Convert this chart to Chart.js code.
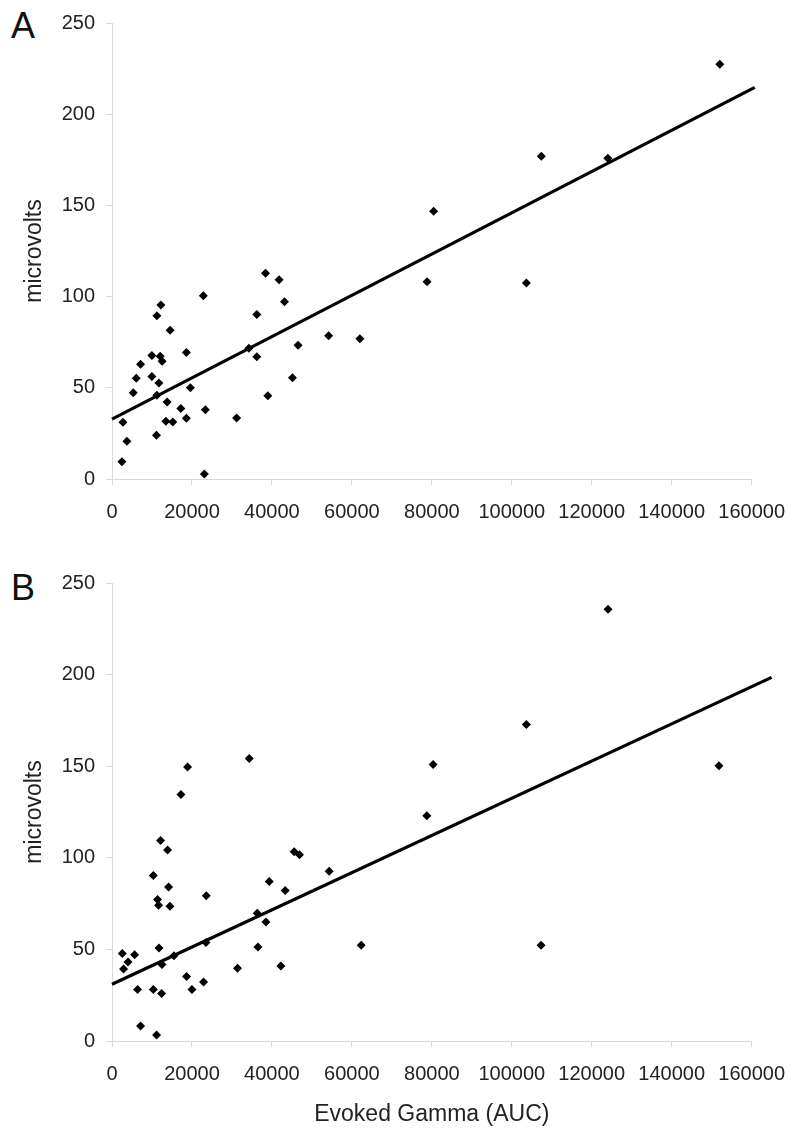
<!DOCTYPE html>
<html>
<head>
<meta charset="utf-8">
<title>Evoked Gamma vs microvolts</title>
<script src="https://cdn.jsdelivr.net/npm/chart.js@4.4.1/dist/chart.umd.min.js"></script>
<style>
    body {
        margin: 0;
        background: #fff;
        width: 800px;
        height: 1136px;
        position: relative;
        overflow: hidden;
        font-family: "Liberation Sans", Arial, sans-serif;
    }
    .panel { position: absolute; left: 0; }
    .letter { position: absolute; left: 11px; font-size: 36px; line-height: 1; color: #111; }
</style>
</head>
<body>
<div class="letter" style="top:8px">A</div>
<div class="letter" style="top:570px">B</div>
<canvas id="chartA" class="panel" style="top:0" width="800" height="540"></canvas>
<canvas id="chartB" class="panel" style="top:560px" width="800" height="576"></canvas>
<script>
// Panel A data
var xA = [2490, 3740, 2740, 5310, 6060, 7140, 9970, 9970, 11720, 11220, 11220, 12220, 12050, 12540, 11130,
    14540, 13790, 13470, 15210, 17210, 18610, 18610, 19610, 22850, 23350, 23100, 31170, 34240, 36230, 36230,
    38400, 38980, 41800, 43150, 45140, 46540, 54190, 62000, 78810, 80460, 103650, 107390, 124030, 152040];
var yA = [9.4, 20.7, 31.1, 47.3, 55.3, 62.9, 67.7, 56.2, 52.6, 45.9, 89.5, 95.4, 67.3, 64.6, 24,
    81.5, 42.2, 31.7, 31.3, 38.6, 69.3, 33.3, 50, 100.4, 38, 2.7, 33.5, 71.7, 90.2, 67,
    112.8, 45.7, 109.3, 97.2, 55.5, 73.3, 78.6, 76.9, 108.1, 146.8, 107.4, 177, 175.9, 227.4];
var trendAx = [0, 160800];
var trendAy = [32.8, 214.7];

// Panel B data
var xB = [17250, 12150, 13900, 10330, 14150, 11400, 11650, 14500, 23580, 2580, 5650, 4000, 2900, 11750, 15500,
    12500, 6400, 10330, 12400, 18650, 20000, 22900, 7150, 11150, 23500, 31400, 36500, 36330, 38500, 39330,
    43330, 42250, 45580, 46900, 54330, 18900, 34330, 124080, 103650, 80330, 78750, 151830, 62330, 107330];
var yB = [134.6, 109.4, 104.2, 90.4, 84.1, 77.3, 74.1, 73.5, 79.3, 47.8, 47.1, 43.1, 39.3, 50.7, 46.6,
    41.8, 28.1, 28.1, 25.9, 35.2, 28.1, 32.2, 8.2, 3.3, 53.8, 39.7, 51.3, 69.7, 64.9, 87,
    82.2, 40.9, 103.3, 101.6, 92.6, 149.5, 154.2, 235.7, 172.7, 150.9, 123, 150.2, 52.2, 52.2];
var trendBx = [0, 165000];
var trendBy = [31, 198.5];

var xTicks = [0, 20000, 40000, 60000, 80000, 100000, 120000, 140000, 160000];
var yTicks = [0, 50, 100, 150, 200, 250];

Chart.defaults.font.family = '"Liberation Sans", Arial, sans-serif';
Chart.defaults.color = '#222';

function pairs(xs, ys) {
    var out = [];
    for (var i = 0; i < xs.length; i++) {
        out.push({ x: xs[i], y: ys[i] });
    }
    return out;
}

function makeChart(id, xs, ys, tx, ty, showXTitle, axisHeight) {
    var ctx = document.getElementById(id).getContext('2d');
    return new Chart(ctx, {
        type: 'scatter',
        data: {
            datasets: [{
                data: pairs(xs, ys),
                pointStyle: 'rectRot',
                pointRadius: 4.5,
                backgroundColor: '#000',
                borderColor: '#000',
                borderWidth: 0
            },
            {
                type: 'line',
                data: pairs(tx, ty),
                borderColor: '#000',
                borderWidth: 3.2,
                pointRadius: 0,
                fill: false,
                clip: false
            }]
        },
        options: {
            responsive: false,
            animation: false,
            layout: { padding: { left: 0, right: 47, top: 21, bottom: 0 } },
            plugins: { legend: { display: false }, tooltip: { enabled: false } },
            scales: {
                x: {
                    type: 'linear',
                    min: 0,
                    max: 160000,
                    afterBuildTicks: function (scale) {
                        scale.ticks = xTicks.map(function (v) { return { value: v }; });
                    },
                    afterFit: function (scale) { scale.height = axisHeight; },
                    ticks: {
                        font: { size: 20 },
                        padding: 15,
                        maxRotation: 0,
                        autoSkip: false,
                        callback: function (v) { return String(v); }
                    },
                    grid: { drawOnChartArea: false, tickLength: 6, color: '#d9d9d9' },
                    border: { color: '#d9d9d9' },
                    title: {
                        display: showXTitle,
                        text: 'Evoked Gamma (AUC)',
                        font: { size: 23 },
                        padding: { top: 0, bottom: 8 }
                    }
                },
                y: {
                    min: 0,
                    max: 250,
                    afterBuildTicks: function (scale) {
                        scale.ticks = yTicks.map(function (v) { return { value: v }; });
                    },
                    afterFit: function (scale) { scale.width = 112; },
                    ticks: { font: { size: 20 }, padding: 11 },
                    grid: { drawOnChartArea: false, tickLength: 6, color: '#d9d9d9' },
                    border: { color: '#d9d9d9' },
                    title: {
                        display: true,
                        text: 'microvolts',
                        font: { size: 23 },
                        padding: { top: 21, bottom: 0 }
                    }
                }
            }
        }
    });
}

var chartA = makeChart('chartA', xA, yA, trendAx, trendAy, false, 61);
var chartB = makeChart('chartB', xB, yB, trendBx, trendBy, true, 95);
</script>
</body>
</html>
